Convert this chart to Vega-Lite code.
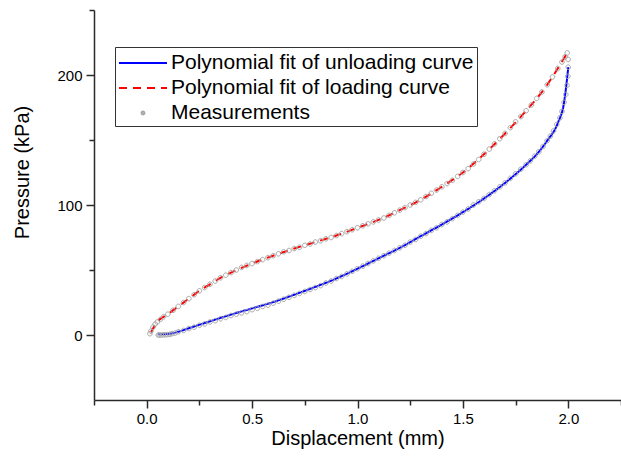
{
  "$schema": "https://vega.github.io/schema/vega-lite/v6.json",
  "width": 527,
  "height": 390,
  "autosize": {"type": "none"},
  "padding": {"left": 94, "top": 10, "right": 0, "bottom": 63},
  "background": "white",
  "config": {
    "view": {"stroke": null},
    "font": "Liberation Sans",
    "axis": {
      "grid": false,
      "domainColor": "#2a2a2a",
      "domainWidth": 1.5,
      "tickColor": "#2a2a2a",
      "tickWidth": 1.5,
      "labelColor": "#000",
      "labelFont": "Liberation Sans",
      "labelFontSize": 15,
      "titleColor": "#000",
      "titleFont": "Liberation Sans",
      "titleFontSize": 20,
      "titleFontWeight": "normal"
    },
    "legend": {
      "orient": "none",
      "legendX": 21,
      "legendY": 37,
      "padding": 3,
      "strokeColor": "#333",
      "fillColor": "#fff",
      "labelFont": "Liberation Sans",
      "labelFontSize": 21,
      "labelColor": "#000",
      "labelLimit": 0,
      "symbolSize": 576,
      "rowPadding": 2,
      "symbolOffset": 12,
      "labelOffset": 15,
      "symbolStrokeWidth": 2
    }
  },
  "datasets": {
    "fit": [
      {"series": "Polynomial fit of unloading curve", "x": 0.055, "y": 0.5},
      {"series": "Polynomial fit of unloading curve", "x": 0.1, "y": 0.8},
      {"series": "Polynomial fit of unloading curve", "x": 0.15, "y": 2.5},
      {"series": "Polynomial fit of unloading curve", "x": 0.2, "y": 5.2},
      {"series": "Polynomial fit of unloading curve", "x": 0.3, "y": 10.5},
      {"series": "Polynomial fit of unloading curve", "x": 0.4, "y": 15.7},
      {"series": "Polynomial fit of unloading curve", "x": 0.5, "y": 20.5},
      {"series": "Polynomial fit of unloading curve", "x": 0.6, "y": 25.3},
      {"series": "Polynomial fit of unloading curve", "x": 0.7, "y": 31},
      {"series": "Polynomial fit of unloading curve", "x": 0.8, "y": 37},
      {"series": "Polynomial fit of unloading curve", "x": 0.9, "y": 43.5},
      {"series": "Polynomial fit of unloading curve", "x": 1.0, "y": 51},
      {"series": "Polynomial fit of unloading curve", "x": 1.1, "y": 59},
      {"series": "Polynomial fit of unloading curve", "x": 1.2, "y": 67},
      {"series": "Polynomial fit of unloading curve", "x": 1.3, "y": 76},
      {"series": "Polynomial fit of unloading curve", "x": 1.4, "y": 85},
      {"series": "Polynomial fit of unloading curve", "x": 1.5, "y": 94.5},
      {"series": "Polynomial fit of unloading curve", "x": 1.6, "y": 105},
      {"series": "Polynomial fit of unloading curve", "x": 1.7, "y": 117},
      {"series": "Polynomial fit of unloading curve", "x": 1.8, "y": 131},
      {"series": "Polynomial fit of unloading curve", "x": 1.85, "y": 139},
      {"series": "Polynomial fit of unloading curve", "x": 1.9, "y": 149.5},
      {"series": "Polynomial fit of unloading curve", "x": 1.95, "y": 163},
      {"series": "Polynomial fit of unloading curve", "x": 1.98, "y": 179},
      {"series": "Polynomial fit of unloading curve", "x": 2.0, "y": 206},
      {"series": "Polynomial fit of loading curve", "x": 0.02, "y": 2},
      {"series": "Polynomial fit of loading curve", "x": 0.05, "y": 10},
      {"series": "Polynomial fit of loading curve", "x": 0.1, "y": 16},
      {"series": "Polynomial fit of loading curve", "x": 0.15, "y": 22},
      {"series": "Polynomial fit of loading curve", "x": 0.2, "y": 28},
      {"series": "Polynomial fit of loading curve", "x": 0.25, "y": 34},
      {"series": "Polynomial fit of loading curve", "x": 0.3, "y": 39},
      {"series": "Polynomial fit of loading curve", "x": 0.35, "y": 44},
      {"series": "Polynomial fit of loading curve", "x": 0.4, "y": 48},
      {"series": "Polynomial fit of loading curve", "x": 0.5, "y": 55},
      {"series": "Polynomial fit of loading curve", "x": 0.6, "y": 61},
      {"series": "Polynomial fit of loading curve", "x": 0.7, "y": 66.5},
      {"series": "Polynomial fit of loading curve", "x": 0.8, "y": 71.5},
      {"series": "Polynomial fit of loading curve", "x": 0.9, "y": 76.5},
      {"series": "Polynomial fit of loading curve", "x": 1.0, "y": 82.5},
      {"series": "Polynomial fit of loading curve", "x": 1.1, "y": 88.5},
      {"series": "Polynomial fit of loading curve", "x": 1.2, "y": 96},
      {"series": "Polynomial fit of loading curve", "x": 1.3, "y": 104},
      {"series": "Polynomial fit of loading curve", "x": 1.4, "y": 114},
      {"series": "Polynomial fit of loading curve", "x": 1.5, "y": 125},
      {"series": "Polynomial fit of loading curve", "x": 1.6, "y": 139},
      {"series": "Polynomial fit of loading curve", "x": 1.7, "y": 155},
      {"series": "Polynomial fit of loading curve", "x": 1.8, "y": 172.5},
      {"series": "Polynomial fit of loading curve", "x": 1.9, "y": 192.5},
      {"series": "Polynomial fit of loading curve", "x": 1.95, "y": 205},
      {"series": "Polynomial fit of loading curve", "x": 1.995, "y": 217}
    ],
    "meas": [
      {"series": "Measurements", "x": 0.015, "y": 1},
      {"series": "Measurements", "x": 0.02, "y": 3},
      {"series": "Measurements", "x": 0.03, "y": 6},
      {"series": "Measurements", "x": 0.04, "y": 8.5},
      {"series": "Measurements", "x": 0.05, "y": 10},
      {"series": "Measurements", "x": 0.065, "y": 12},
      {"series": "Measurements", "x": 0.08, "y": 14},
      {"series": "Measurements", "x": 0.1, "y": 16},
      {"series": "Measurements", "x": 0.125, "y": 19},
      {"series": "Measurements", "x": 0.15, "y": 22},
      {"series": "Measurements", "x": 0.175, "y": 25},
      {"series": "Measurements", "x": 0.2, "y": 28},
      {"series": "Measurements", "x": 0.225, "y": 31},
      {"series": "Measurements", "x": 0.25, "y": 34},
      {"series": "Measurements", "x": 0.275, "y": 36.5},
      {"series": "Measurements", "x": 0.3, "y": 39},
      {"series": "Measurements", "x": 0.325, "y": 41.5},
      {"series": "Measurements", "x": 0.35, "y": 44},
      {"series": "Measurements", "x": 0.375, "y": 46},
      {"series": "Measurements", "x": 0.4, "y": 48},
      {"series": "Measurements", "x": 0.425, "y": 50},
      {"series": "Measurements", "x": 0.45, "y": 52},
      {"series": "Measurements", "x": 0.475, "y": 53.5},
      {"series": "Measurements", "x": 0.5, "y": 55},
      {"series": "Measurements", "x": 0.525, "y": 56.5},
      {"series": "Measurements", "x": 0.55, "y": 58},
      {"series": "Measurements", "x": 0.575, "y": 59.5},
      {"series": "Measurements", "x": 0.6, "y": 61},
      {"series": "Measurements", "x": 0.625, "y": 62.5},
      {"series": "Measurements", "x": 0.65, "y": 64},
      {"series": "Measurements", "x": 0.675, "y": 65},
      {"series": "Measurements", "x": 0.7, "y": 66.5},
      {"series": "Measurements", "x": 0.725, "y": 67.5},
      {"series": "Measurements", "x": 0.75, "y": 69},
      {"series": "Measurements", "x": 0.775, "y": 70},
      {"series": "Measurements", "x": 0.8, "y": 71.5},
      {"series": "Measurements", "x": 0.825, "y": 72.5},
      {"series": "Measurements", "x": 0.85, "y": 74},
      {"series": "Measurements", "x": 0.875, "y": 75},
      {"series": "Measurements", "x": 0.9, "y": 76.5},
      {"series": "Measurements", "x": 0.925, "y": 78},
      {"series": "Measurements", "x": 0.95, "y": 79.5},
      {"series": "Measurements", "x": 0.975, "y": 81},
      {"series": "Measurements", "x": 1.0, "y": 82.5},
      {"series": "Measurements", "x": 1.025, "y": 84},
      {"series": "Measurements", "x": 1.05, "y": 85.5},
      {"series": "Measurements", "x": 1.075, "y": 87},
      {"series": "Measurements", "x": 1.1, "y": 88.5},
      {"series": "Measurements", "x": 1.125, "y": 90},
      {"series": "Measurements", "x": 1.15, "y": 92},
      {"series": "Measurements", "x": 1.175, "y": 94},
      {"series": "Measurements", "x": 1.2, "y": 96},
      {"series": "Measurements", "x": 1.225, "y": 98},
      {"series": "Measurements", "x": 1.25, "y": 100},
      {"series": "Measurements", "x": 1.275, "y": 102},
      {"series": "Measurements", "x": 1.3, "y": 104},
      {"series": "Measurements", "x": 1.325, "y": 106.5},
      {"series": "Measurements", "x": 1.35, "y": 109},
      {"series": "Measurements", "x": 1.375, "y": 111.5},
      {"series": "Measurements", "x": 1.4, "y": 114},
      {"series": "Measurements", "x": 1.425, "y": 116.5},
      {"series": "Measurements", "x": 1.45, "y": 119},
      {"series": "Measurements", "x": 1.475, "y": 122},
      {"series": "Measurements", "x": 1.5, "y": 125},
      {"series": "Measurements", "x": 1.525, "y": 128},
      {"series": "Measurements", "x": 1.55, "y": 131.5},
      {"series": "Measurements", "x": 1.575, "y": 135},
      {"series": "Measurements", "x": 1.6, "y": 139},
      {"series": "Measurements", "x": 1.625, "y": 143},
      {"series": "Measurements", "x": 1.65, "y": 147},
      {"series": "Measurements", "x": 1.675, "y": 151},
      {"series": "Measurements", "x": 1.7, "y": 155},
      {"series": "Measurements", "x": 1.725, "y": 159.5},
      {"series": "Measurements", "x": 1.75, "y": 164},
      {"series": "Measurements", "x": 1.775, "y": 168},
      {"series": "Measurements", "x": 1.8, "y": 172.5},
      {"series": "Measurements", "x": 1.825, "y": 177},
      {"series": "Measurements", "x": 1.85, "y": 182},
      {"series": "Measurements", "x": 1.875, "y": 187},
      {"series": "Measurements", "x": 1.9, "y": 192.5},
      {"series": "Measurements", "x": 1.925, "y": 198.5},
      {"series": "Measurements", "x": 1.95, "y": 205},
      {"series": "Measurements", "x": 1.97, "y": 210},
      {"series": "Measurements", "x": 1.985, "y": 214},
      {"series": "Measurements", "x": 1.995, "y": 217},
      {"series": "Measurements", "x": 1.999, "y": 212},
      {"series": "Measurements", "x": 2.0, "y": 206},
      {"series": "Measurements", "x": 1.998, "y": 199},
      {"series": "Measurements", "x": 1.994, "y": 192},
      {"series": "Measurements", "x": 1.988, "y": 185},
      {"series": "Measurements", "x": 1.98, "y": 179},
      {"series": "Measurements", "x": 1.97, "y": 172},
      {"series": "Measurements", "x": 1.96, "y": 167},
      {"series": "Measurements", "x": 1.945, "y": 162},
      {"series": "Measurements", "x": 1.93, "y": 157},
      {"series": "Measurements", "x": 1.915, "y": 153},
      {"series": "Measurements", "x": 1.9, "y": 149.5},
      {"series": "Measurements", "x": 1.88, "y": 145},
      {"series": "Measurements", "x": 1.86, "y": 141},
      {"series": "Measurements", "x": 1.84, "y": 137.5},
      {"series": "Measurements", "x": 1.82, "y": 134},
      {"series": "Measurements", "x": 1.8, "y": 131},
      {"series": "Measurements", "x": 1.775, "y": 127.5},
      {"series": "Measurements", "x": 1.75, "y": 124},
      {"series": "Measurements", "x": 1.725, "y": 120.5},
      {"series": "Measurements", "x": 1.7, "y": 117},
      {"series": "Measurements", "x": 1.675, "y": 114},
      {"series": "Measurements", "x": 1.65, "y": 111},
      {"series": "Measurements", "x": 1.625, "y": 108},
      {"series": "Measurements", "x": 1.6, "y": 105},
      {"series": "Measurements", "x": 1.575, "y": 102.5},
      {"series": "Measurements", "x": 1.55, "y": 100},
      {"series": "Measurements", "x": 1.525, "y": 97},
      {"series": "Measurements", "x": 1.5, "y": 94.5},
      {"series": "Measurements", "x": 1.475, "y": 92},
      {"series": "Measurements", "x": 1.45, "y": 89.5},
      {"series": "Measurements", "x": 1.425, "y": 87},
      {"series": "Measurements", "x": 1.4, "y": 85},
      {"series": "Measurements", "x": 1.375, "y": 82.5},
      {"series": "Measurements", "x": 1.35, "y": 80.5},
      {"series": "Measurements", "x": 1.325, "y": 78},
      {"series": "Measurements", "x": 1.3, "y": 76},
      {"series": "Measurements", "x": 1.275, "y": 73.5},
      {"series": "Measurements", "x": 1.25, "y": 71.5},
      {"series": "Measurements", "x": 1.225, "y": 69},
      {"series": "Measurements", "x": 1.2, "y": 67},
      {"series": "Measurements", "x": 1.175, "y": 65},
      {"series": "Measurements", "x": 1.15, "y": 63},
      {"series": "Measurements", "x": 1.125, "y": 61},
      {"series": "Measurements", "x": 1.1, "y": 59},
      {"series": "Measurements", "x": 1.075, "y": 57},
      {"series": "Measurements", "x": 1.05, "y": 55},
      {"series": "Measurements", "x": 1.025, "y": 53},
      {"series": "Measurements", "x": 1.0, "y": 51},
      {"series": "Measurements", "x": 0.975, "y": 49},
      {"series": "Measurements", "x": 0.95, "y": 47},
      {"series": "Measurements", "x": 0.925, "y": 45},
      {"series": "Measurements", "x": 0.9, "y": 43.5},
      {"series": "Measurements", "x": 0.875, "y": 41.5},
      {"series": "Measurements", "x": 0.85, "y": 40},
      {"series": "Measurements", "x": 0.825, "y": 38},
      {"series": "Measurements", "x": 0.8, "y": 36.5},
      {"series": "Measurements", "x": 0.775, "y": 35},
      {"series": "Measurements", "x": 0.75, "y": 33.5},
      {"series": "Measurements", "x": 0.725, "y": 32},
      {"series": "Measurements", "x": 0.7, "y": 30.5},
      {"series": "Measurements", "x": 0.675, "y": 29},
      {"series": "Measurements", "x": 0.65, "y": 27.5},
      {"series": "Measurements", "x": 0.625, "y": 26},
      {"series": "Measurements", "x": 0.6, "y": 24.5},
      {"series": "Measurements", "x": 0.575, "y": 23},
      {"series": "Measurements", "x": 0.55, "y": 22},
      {"series": "Measurements", "x": 0.525, "y": 20.5},
      {"series": "Measurements", "x": 0.5, "y": 19.5},
      {"series": "Measurements", "x": 0.475, "y": 18},
      {"series": "Measurements", "x": 0.45, "y": 17},
      {"series": "Measurements", "x": 0.425, "y": 16},
      {"series": "Measurements", "x": 0.4, "y": 15},
      {"series": "Measurements", "x": 0.375, "y": 13.5},
      {"series": "Measurements", "x": 0.35, "y": 12.5},
      {"series": "Measurements", "x": 0.325, "y": 11},
      {"series": "Measurements", "x": 0.3, "y": 10},
      {"series": "Measurements", "x": 0.275, "y": 8.5},
      {"series": "Measurements", "x": 0.25, "y": 7.5},
      {"series": "Measurements", "x": 0.225, "y": 6},
      {"series": "Measurements", "x": 0.2, "y": 5},
      {"series": "Measurements", "x": 0.175, "y": 3.5},
      {"series": "Measurements", "x": 0.15, "y": 2.5},
      {"series": "Measurements", "x": 0.135, "y": 1.5},
      {"series": "Measurements", "x": 0.12, "y": 1},
      {"series": "Measurements", "x": 0.11, "y": 0.5},
      {"series": "Measurements", "x": 0.1, "y": 0.3},
      {"series": "Measurements", "x": 0.09, "y": 0.2},
      {"series": "Measurements", "x": 0.08, "y": 0.1},
      {"series": "Measurements", "x": 0.07, "y": 0},
      {"series": "Measurements", "x": 0.06, "y": 0},
      {"series": "Measurements", "x": 0.055, "y": 0}
    ]
  },
  "encoding": {
    "x": {
      "field": "x",
      "type": "quantitative",
      "scale": {"domain": [-0.25, 2.25], "nice": false, "zero": false},
      "axis": {
        "title": "Displacement (mm)",
        "values": [-0.25, 0, 0.25, 0.5, 0.75, 1, 1.25, 1.5, 1.75, 2, 2.25],
        "labelExpr": "datum.value % 0.5 === 0 ? format(datum.value, '.1f') : ''",
        "tickSize": {"expr": "datum.value % 0.5 === 0 ? 8 : 5"},
        "labelPadding": 3,
        "titlePadding": 2
      }
    },
    "y": {
      "field": "y",
      "type": "quantitative",
      "scale": {"domain": [-50, 250], "nice": false, "zero": false},
      "axis": {
        "title": "Pressure (kPa)",
        "values": [0, 50, 100, 150, 200, 250],
        "labelExpr": "datum.value % 100 === 0 ? format(datum.value, 'd') : ''",
        "tickSize": {"expr": "datum.value % 100 === 0 ? 8 : 5"},
        "labelPadding": 4,
        "titleX": -72,
        "titleY": 162,
        "titleBaseline": "middle",
        "titleAlign": "center"
      }
    }
  },
  "layer": [
    {
      "data": {"name": "fit"},
      "mark": {"type": "line", "strokeWidth": 2, "interpolate": "monotone"},
      "encoding": {
        "color": {
          "field": "series",
          "type": "nominal",
          "scale": {
            "domain": ["Polynomial fit of unloading curve", "Polynomial fit of loading curve", "Measurements"],
            "range": ["#0000ff", "#ff0000", "#a6a6a6"]
          },
          "legend": {"title": null}
        },
        "strokeDash": {
          "field": "series",
          "type": "nominal",
          "scale": {
            "domain": ["Polynomial fit of unloading curve", "Polynomial fit of loading curve", "Measurements"],
            "range": [[1, 0], [8, 6], [1, 0]]
          },
          "legend": {"title": null}
        }
      }
    },
    {
      "data": {"name": "meas"},
      "mark": {"type": "point", "filled": false, "size": 1470, "strokeWidth": 1, "opacity": 1},
      "encoding": {
        "color": {
          "field": "series",
          "type": "nominal",
          "scale": {
            "domain": ["Polynomial fit of unloading curve", "Polynomial fit of loading curve", "Measurements"],
            "range": ["#0000ff", "#ff0000", "#a6a6a6"]
          },
          "legend": {"title": null}
        },
        "shape": {
          "field": "series",
          "type": "nominal",
          "scale": {
            "domain": ["Polynomial fit of unloading curve", "Polynomial fit of loading curve", "Measurements"],
            "range": ["M-2,0H2", "M-2,0H2", "M-0.12,0A0.12,0.12 0 1,0 0.12,0A0.12,0.12 0 1,0 -0.12,0"]
          },
          "legend": {"title": null}
        }
      }
    }
  ]
}
